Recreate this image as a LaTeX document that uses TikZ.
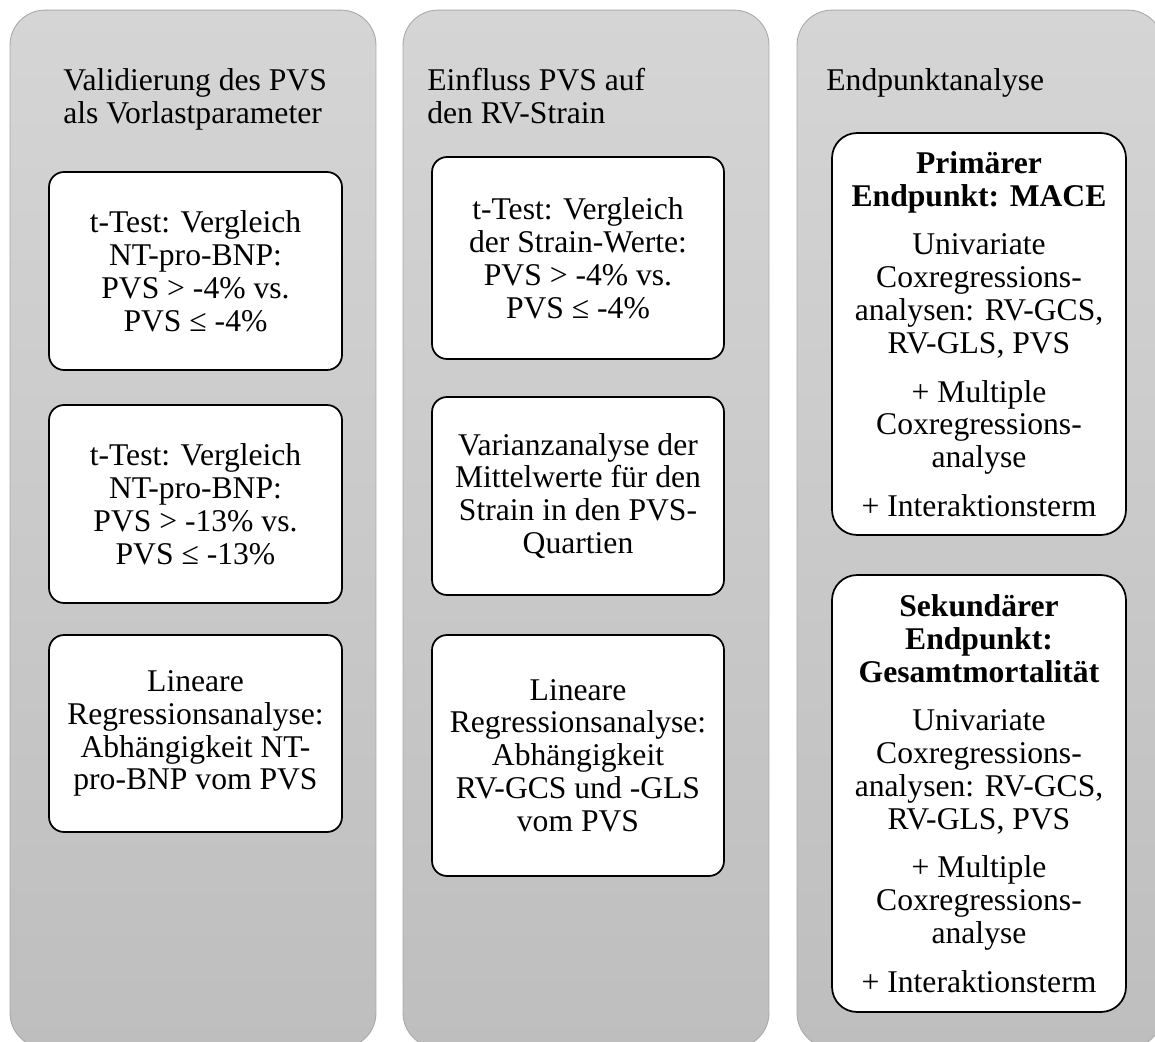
\documentclass[tikz,border=0pt]{standalone}
\usepackage{fontspec}
\setmainfont{Liberation Serif}
\usepackage{xcolor}
\definecolor{PanelTop}{HTML}{D5D5D5}
\definecolor{PanelBottom}{HTML}{BEBEBE}
\definecolor{PanelEdge}{HTML}{A9A9A9}

\tikzset{
  panel/.style={draw=PanelEdge, line width=0.5pt, rounded corners=0.7cm,
    top color=PanelTop, bottom color=PanelBottom,
    minimum width=7.32cm, minimum height=20.76cm, inner sep=0pt},
  stepbox/.style={draw=black, fill=white, line width=1pt, rounded corners=0.3cm,
    inner sep=0pt, align=center, font=\fontsize{18pt}{18.7pt}\selectfont},
  endbox/.style={stepbox, rounded corners=0.5cm, minimum width=5.88cm},
  heading/.style={anchor=north west, inner sep=0pt, align=left,
    font=\fontsize{18pt}{18.7pt}\selectfont}
}

\begin{document}
\begin{tikzpicture}[x=0.02cm, y=-0.02cm]
  \useasboundingbox (0,0) rectangle (1155,1041);
  \clip (0,0) rectangle (1155,1041);
  \fill[white] (0,0) rectangle (1155,1041);

  % columns
  \node[panel] (colVal) at (193,529) {};
  \node[panel] (colStrain) at (586,529) {};
  \node[panel] (colEnd) at (980,529) {};

  % headings
  \node[heading] (hVal) at (63,68) {Validierung des PVS\\als Vorlastparameter};
  \node[heading] (hStrain) at (427,68) {Einfluss PVS auf\\den RV-Strain};
  \node[heading] (hEnd) at (826,68) {Endpunktanalyse};

  % Validierung
  \node[stepbox, minimum width=5.86cm, minimum height=3.96cm] (valT1) at (195.5,271)
    {t-Test: Vergleich\\NT-pro-BNP:\\PVS > -4\% vs.\\PVS ≤ -4\%};
  \node[stepbox, minimum width=5.86cm, minimum height=3.96cm] (valT2) at (195.5,504)
    {t-Test: Vergleich\\NT-pro-BNP:\\PVS > -13\% vs.\\PVS ≤ -13\%};
  \node[stepbox, minimum width=5.86cm, minimum height=3.94cm] (valReg) at (195.5,733.5)
    {Lineare\\Regressionsanalyse:\\Abhängigkeit NT-\\pro-BNP vom PVS};

  % Einfluss auf den Strain
  \node[stepbox, minimum width=5.84cm, minimum height=4.04cm] (strT) at (578,258)
    {t-Test: Vergleich\\der Strain-Werte:\\PVS > -4\% vs.\\PVS ≤ -4\%};
  \node[stepbox, minimum width=5.84cm, minimum height=3.96cm] (strVar) at (578,496)
    {Varianzanalyse der\\Mittelwerte für den\\Strain in den PVS-\\Quartien};
  \node[stepbox, minimum width=5.84cm, minimum height=4.82cm] (strReg) at (578,755.5)
    {Lineare\\Regressionsanalyse:\\Abhängigkeit\\RV-GCS und -GLS\\vom PVS};

  % Endpunkte
  \node[endbox, minimum height=8.04cm] (endPrim) at (979,334)
    {\textbf{Primärer}\\\textbf{Endpunkt: MACE}\\[9pt]
     Univariate\\Coxregressions-\\analysen: RV-GCS,\\RV-GLS, PVS\\[9pt]
     + Multiple\\Coxregressions-\\analyse\\[9pt]
     + Interaktionsterm};
  \node[endbox, minimum height=8.74cm] (endSek) at (979,793.5)
    {\textbf{Sekundärer}\\\textbf{Endpunkt:}\\\textbf{Gesamtmortalität}\\[9pt]
     Univariate\\Coxregressions-\\analysen: RV-GCS,\\RV-GLS, PVS\\[9pt]
     + Multiple\\Coxregressions-\\analyse\\[9pt]
     + Interaktionsterm};
\end{tikzpicture}
\end{document}
